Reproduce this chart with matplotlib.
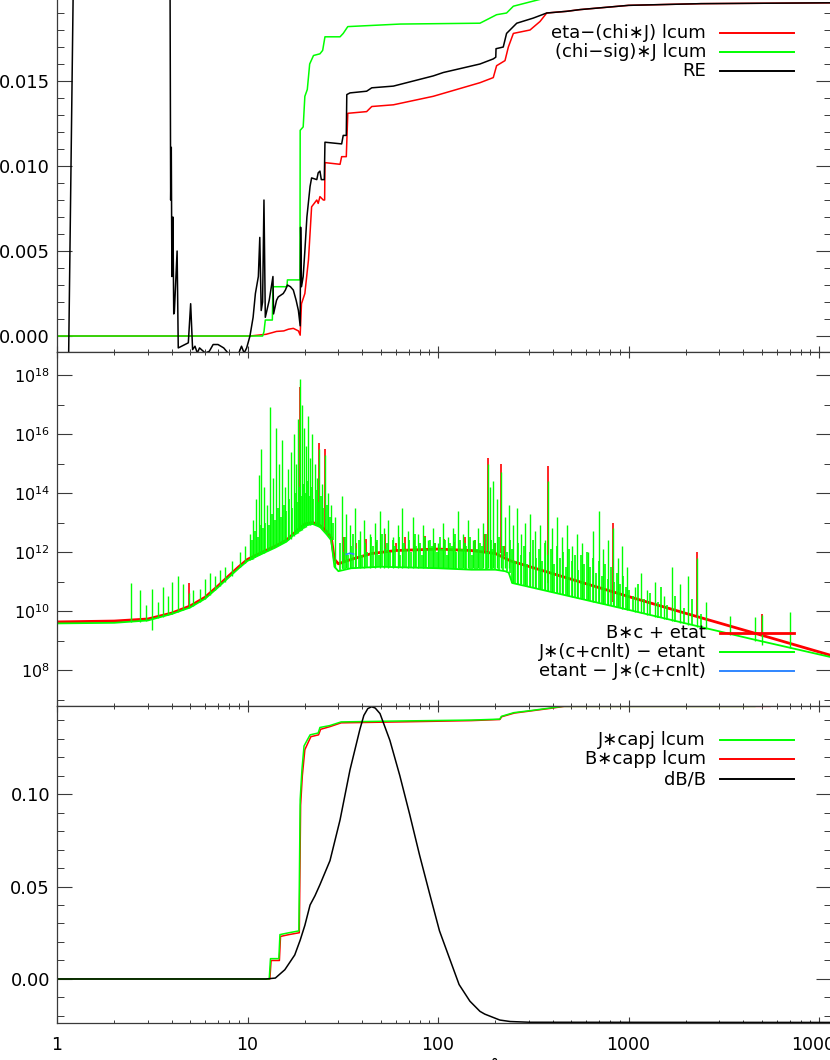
import numpy as np
import matplotlib
matplotlib.use("Agg")
import matplotlib.pyplot as plt
from matplotlib.ticker import MultipleLocator, FixedLocator, NullFormatter, FuncFormatter, LogLocator
from matplotlib.lines import Line2D

plt.rcParams['font.family'] = ['DejaVu Sans']
plt.rcParams['mathtext.default'] = 'regular'

# ---------------- top panel data ----------------
re_x = [1.15, 1.22, 1.30, 3.90, 3.95, 3.98, 4.01, 4.03, 4.06, 4.10, 4.13, 4.27, 4.33, 4.89, 5.03, 5.15,
        5.30, 5.45, 5.60, 6.0, 6.3, 6.6, 7.0, 7.5, 7.9, 9.0, 9.3, 9.6, 9.9, 10.3, 10.7, 11.0, 11.4, 11.6,
        11.8, 12.0, 12.2, 12.4, 13.0, 13.6, 13.7, 14.2, 14.5, 15.4, 15.8, 16.2, 16.8, 17.4, 18.0, 18.5,
        18.9, 19.0, 19.2, 19.6, 20.0, 20.5, 21.3, 21.7, 23.1, 23.5, 24.0, 24.4, 25.3, 25.5, 31.2, 31.8,
        33.0, 33.2, 34.5, 42.2, 44.9, 58.3, 94.4, 106.6, 166, 195, 201, 201.6, 220, 229, 259, 316, 372,
        474, 556, 1000, 2400, 11500]
re_y = [-0.0015, 0.0215, 0.03, 0.03, 0.0080, 0.0111, 0.0035, 0.0039, 0.0070, 0.0013, 0.0014, 0.0050,
        -0.0007, -0.0004, 0.0019, -0.0008, -0.0006, -0.0010, -0.0007, -0.0010, -0.0009, -0.0005, -0.0005,
        -0.0007, -0.0010, -0.0010, -0.0006, -0.0010, -0.0007, 0.0000, 0.0011, 0.0025, 0.0035, 0.0058,
        0.0015, 0.0020, 0.0080, 0.0011, 0.0021, 0.0035, 0.0013, 0.0021, 0.0023, 0.0025, 0.0027, 0.0030,
        0.0029, 0.0027, 0.0021, 0.0015, 0.0006, 0.0064, 0.0029, 0.0035, 0.0050, 0.0070, 0.0088, 0.0093,
        0.0092, 0.0096, 0.0097, 0.0092, 0.0092, 0.0114, 0.0113, 0.0118, 0.0118, 0.0142, 0.0143, 0.0144,
        0.0146, 0.0147, 0.0153, 0.0155, 0.0160, 0.0163, 0.0164, 0.0169, 0.0170, 0.0178, 0.0184, 0.0187,
        0.0190, 0.0191, 0.0192, 0.01945, 0.01955, 0.0196]

eta_x = [1, 10.3, 12.5, 13.5, 14.2, 15.5, 16.4, 17.4, 18.5, 18.9, 19.2, 20.0, 20.9, 21.7, 23.1, 23.5,
         24.0, 25.0, 25.4, 25.5, 30.6, 31.2, 33.0, 33.6, 42.2, 44.9, 58.3, 94.4, 166, 195, 203, 224.7,
         234, 248.6, 304, 343, 372, 474, 556, 1000, 2400, 11500]
eta_y = [0, 0, 0.0001, 0.0002, 0.00027, 0.0003, 0.0004, 0.00045, 0.0003, 0.00005, 0.0019, 0.0025,
         0.0045, 0.0076, 0.0080, 0.0078, 0.0082, 0.0080, 0.0080, 0.0102, 0.0101, 0.01055, 0.01055,
         0.0131, 0.0132, 0.0135, 0.0136, 0.0141, 0.0149, 0.0152, 0.0159, 0.0162, 0.0170, 0.0178, 0.0180,
         0.0185, 0.0190, 0.0191, 0.0192, 0.01945, 0.01955, 0.0196]

chisig_x = [1, 12.0, 12.2, 12.4, 13.5, 13.6, 16.1, 16.2, 18.85, 18.9, 19.6, 20.0, 20.6, 21.2, 22.2, 24.0,
            24.8, 25.5, 30.6, 31.8, 33.6, 63.2, 166, 180, 203, 229, 248.6, 316, 372, 500, 1000, 11500]
chisig_y = [0, 0, 0.00025, 0.00094, 0.00094, 0.0029, 0.0029, 0.0033, 0.0033, 0.0121, 0.0123, 0.0141,
            0.0145, 0.0160, 0.0165, 0.0166, 0.0168, 0.0176, 0.0176, 0.0178, 0.0182, 0.01835, 0.0184,
            0.0186, 0.0189, 0.0190, 0.0194, 0.0197, 0.0199, 0.0201, 0.0205, 0.0210]

# ---------------- middle panel data (log10 of the values) ----------------
red_cont_x = [1, 2, 3, 4, 5, 6, 7, 8, 9, 10, 12, 14, 16, 18, 20, 22, 24, 26, 27.5, 28.6, 30, 35, 45, 60,
              100, 150, 200, 240, 1000, 2000, 5000, 11500]
red_cont_log = [9.63, 9.66, 9.73, 9.93, 10.17, 10.47, 10.85, 11.2, 11.5, 11.75, 12.0, 12.2, 12.4, 12.7,
                12.95, 13.0, 12.9, 12.7, 12.5, 11.75, 11.6, 11.75, 11.95, 12.05, 12.1, 12.05, 11.95, 11.7,
                10.49, 9.92, 9.18, 8.5]

grn_cont_x = [1, 2, 3, 4, 5, 6, 7, 8, 9, 10, 12, 14, 16, 18, 20, 22, 24, 26, 27.5, 28.6, 30, 35, 50, 100,
              150, 200, 225, 235, 245, 300, 1000, 4300, 11500]
grn_cont_log = [9.58, 9.60, 9.68, 9.9, 10.12, 10.42, 10.8, 11.15, 11.45, 11.7, 11.95, 12.15, 12.35, 12.65,
                12.9, 12.95, 12.85, 12.6, 12.4, 11.5, 11.35, 11.45, 11.5, 11.45, 11.4, 11.4, 11.35, 11.3,
                10.95, 10.82, 10.04, 9.07, 8.44]

# (wavelength, log10 low end, log10 high end) of the emission spikes
spikes = [
    (2.45, 9.62, 10.95), (2.73, 9.64, 10.7), (2.93, 9.67, 10.2), (3.15, 9.35, 10.75), (3.39, 9.76, 10.3),
    (3.60, 9.8, 10.8), (3.82, 9.86, 10.5), (4.02, 9.9, 11.0), (4.32, 9.97, 11.2), (4.59, 10.04, 10.9),
    (4.93, 10.1, 10.6), (5.18, 10.18, 10.7), (5.63, 10.3, 10.75), (5.98, 10.4, 11.1), (6.36, 10.55, 11.3),
    (6.75, 10.7, 11.2), (7.17, 10.85, 11.4), (7.62, 11.0, 11.5), (8.29, 11.2, 11.7), (9.13, 11.5, 12.0),
    (9.70, 11.62, 12.2),
    (10.3, 11.72, 12.6), (10.69, 11.78, 13.1), (11.08, 11.85, 13.8), (11.49, 11.9, 14.6), (11.77, 11.94, 15.5),
    (12.21, 11.97, 14.2), (12.66, 12.05, 13.6), (13.13, 12.1, 16.9), (13.61, 12.15, 14.5), (14.11, 12.2, 16.2),
    (14.64, 12.25, 15.0), (15.18, 12.3, 15.8), (15.74, 12.35, 14.2), (16.32, 12.4, 14.8), (16.92, 12.45, 15.4),
    (17.54, 12.55, 16.0), (17.97, 12.6, 15.0), (18.41, 12.65, 16.5), (18.86, 12.7, 17.88), (19.32, 12.75, 17.0),
    (19.80, 12.8, 16.2), (20.28, 12.85, 15.6), (20.78, 12.9, 16.6), (21.29, 12.9, 15.2), (21.81, 12.95, 16.0),
    (22.61, 12.95, 15.0), (23.17, 12.9, 14.5), (23.73, 12.85, 15.5), (24.61, 12.8, 14.3), (25.52, 12.7, 15.3),
    (26.46, 12.6, 14.0), (27.44, 12.45, 13.6), (28.80, 11.45, 13.2),
    (31.34, 11.45, 13.9), (32.89, 11.45, 13.3), (34.52, 11.45, 12.9), (36.67, 11.45, 13.5), (38.96, 11.45, 12.7),
    (40.88, 11.45, 13.1), (43.95, 11.45, 12.6), (46.69, 11.45, 13.0), (49.61, 11.45, 13.4), (52.07, 11.45, 12.8),
    (54.65, 11.45, 13.1), (58.04, 11.45, 12.5), (61.66, 11.45, 12.9), (64.71, 11.45, 13.5), (69.57, 11.45, 12.7),
    (73.9, 11.45, 13.2), (78.5, 11.45, 12.6), (83.4, 11.45, 12.9), (88.6, 11.45, 12.4), (94.1, 11.45, 12.8),
    (100.0, 11.45, 12.3), (106.2, 11.45, 13.0), (112.8, 11.45, 12.5), (119.9, 11.45, 12.8), (127.4, 11.45, 13.4),
    (135.3, 11.45, 12.6), (143.7, 11.45, 13.1), (152.7, 11.45, 12.4), (162.2, 11.45, 12.8), (172.3, 11.45, 13.0),
    (183.0, 11.45, 15.0), (187.5, 11.45, 14.2), (194.4, 11.45, 14.4), (204.1, 11.45, 13.8), (214.1, 11.45, 14.7),
    (224.7, 11.45, 13.2), (235.9, 11.45, 13.6), (247.6, 10.95, 12.9), (259.9, 10.93, 13.5), (272.8, 10.9, 12.6),
    (286.3, 10.87, 13.0), (304.1, 10.82, 13.3), (323.0, 10.78, 12.7), (343.1, 10.74, 12.9), (364.5, 10.7, 12.4),
    (378.0, 10.68, 14.4), (396.7, 10.65, 12.8), (421.4, 10.61, 13.2), (447.6, 10.57, 12.5), (475.6, 10.53, 12.9),
    (505.1, 10.49, 12.2), (536.7, 10.45, 12.6), (570.1, 10.41, 12.3), (612.9, 10.36, 12.0), (651.0, 10.32, 12.7),
    (699.9, 10.27, 13.4), (734.6, 10.24, 12.1), (780.5, 10.2, 12.4), (829.1, 10.16, 12.8), (880.9, 10.12, 11.8),
    (924.5, 10.08, 12.2), (982.0, 10.04, 11.5),
    (1082, 9.97, 10.8), (1163, 9.92, 11.3), (1251, 9.87, 10.7), (1377, 9.81, 11.0), (1536, 9.73, 10.5),
    (1692, 9.67, 11.5), (1864, 9.6, 10.9), (2053, 9.54, 11.2), (2289, 9.47, 11.8), (2552, 9.39, 10.3),
    (3411, 9.2, 9.83), (4613, 9.0, 9.8), (5022, 8.85, 9.86), (7044, 8.75, 9.97),
]

# dense short lines ("grass") between the strong spikes
grass = [
    (10.5, 11.74, 12.4), (10.9, 11.8, 12.7), (11.3, 11.87, 12.5), (11.6, 11.92, 12.9), (12.0, 11.95, 12.8),
    (12.4, 12.0, 13.0), (12.9, 12.07, 12.9), (13.4, 12.12, 13.3), (13.9, 12.17, 13.1), (14.4, 12.22, 13.5),
    (14.9, 12.27, 13.2), (15.5, 12.32, 13.6), (16.0, 12.37, 13.4), (16.6, 12.42, 13.8), (17.2, 12.5, 13.5),
    (17.8, 12.58, 14.0), (18.2, 12.62, 13.7), (18.6, 12.67, 14.2), (19.1, 12.72, 13.9), (19.6, 12.78, 14.3),
    (20.0, 12.82, 14.0), (20.5, 12.87, 14.4), (21.0, 12.9, 13.9), (21.5, 12.92, 14.2), (22.2, 12.95, 13.8),
    (22.9, 12.92, 14.1), (23.5, 12.88, 13.7), (24.2, 12.82, 13.9), (25.0, 12.75, 13.5), (26.0, 12.62, 13.6),
    (27.0, 12.5, 13.2), (28.0, 12.4, 13.0),
    (30.5, 11.4, 12.3), (31.6, 11.42, 12.0), (32.4, 11.43, 12.5), (33.7, 11.44, 11.9), (35.0, 11.45, 12.2),
    (35.9, 11.46, 12.6), (37.3, 11.47, 12.1), (38.5, 11.47, 12.4), (40.0, 11.48, 11.9), (41.3, 11.48, 12.3),
    (42.6, 11.49, 12.0), (44.6, 11.49, 12.5), (45.8, 11.5, 12.2), (47.9, 11.5, 12.4), (49.0, 11.5, 11.9),
    (50.8, 11.5, 12.6), (53.0, 11.5, 12.1), (54.0, 11.5, 12.3), (56.2, 11.49, 12.0), (57.9, 11.49, 12.4),
    (59.8, 11.49, 12.2), (62.5, 11.48, 12.5), (63.5, 11.48, 11.9), (66.0, 11.48, 12.3), (68.0, 11.47, 12.1),
    (70.8, 11.47, 12.4), (72.5, 11.47, 12.0), (75.5, 11.47, 12.6), (77.0, 11.46, 12.2), (80.0, 11.46, 12.3),
    (82.0, 11.46, 11.9), (85.5, 11.46, 12.5), (87.0, 11.46, 12.1), (91.0, 11.45, 12.4), (92.5, 11.45, 12.2),
    (96.5, 11.45, 12.3), (98.5, 11.45, 12.0), (102.5, 11.45, 12.5), (104.5, 11.45, 12.1), (109.0, 11.44, 12.4),
    (111.0, 11.44, 11.9), (116.0, 11.44, 12.3), (118.0, 11.43, 12.2), (123.0, 11.43, 12.6), (125.0, 11.43, 12.0),
    (131.0, 11.42, 12.4), (133.0, 11.42, 12.1), (139.0, 11.42, 12.3), (141.0, 11.41, 12.2), (148.0, 11.41, 12.5),
    (150.0, 11.4, 11.9), (157.0, 11.4, 12.4), (160.0, 11.4, 12.1), (167.0, 11.4, 12.3), (170.0, 11.4, 12.2),
    (178.0, 11.4, 12.6), (181.0, 11.4, 12.0), (189.0, 11.4, 12.4), (192.0, 11.4, 12.1), (200.0, 11.4, 12.3),
    (209.0, 11.38, 12.5), (219.0, 11.36, 12.2), (229.0, 11.34, 12.0), (238.0, 11.3, 12.4),
    (245, 10.95, 12.1), (254, 10.93, 11.7), (263, 10.92, 12.3), (273, 10.9, 11.9), (283, 10.88, 12.2),
    (293, 10.85, 11.6), (304, 10.82, 12.0), (315, 10.8, 12.4), (327, 10.77, 11.8), (339, 10.75, 12.1),
    (351, 10.73, 11.7), (364, 10.7, 12.3), (378, 10.68, 11.9), (392, 10.66, 12.1), (406, 10.63, 11.6),
    (421, 10.61, 12.2), (437, 10.58, 11.8), (453, 10.56, 12.0), (470, 10.54, 11.5), (487, 10.51, 12.1),
    (505, 10.49, 11.7), (524, 10.46, 11.9), (543, 10.44, 11.4), (563, 10.42, 11.9), (584, 10.39, 11.6),
    (606, 10.37, 12.0), (628, 10.34, 11.5), (651, 10.32, 11.8), (675, 10.29, 11.3), (700, 10.27, 11.7),
    (726, 10.24, 11.2), (753, 10.22, 11.6), (781, 10.19, 11.1), (810, 10.17, 11.5), (840, 10.14, 11.0),
    (871, 10.12, 11.3), (903, 10.09, 10.9), (937, 10.07, 11.2), (971, 10.05, 10.8),
    (1010, 10.02, 10.7), (1050, 9.99, 10.5), (1120, 9.95, 10.9), (1200, 9.9, 10.4), (1300, 9.85, 10.6),
    (1420, 9.78, 10.3), (1480, 9.76, 10.8), (1600, 9.7, 10.2), (1750, 9.64, 10.5), (1950, 9.57, 10.1),
    (2150, 9.51, 10.4), (2400, 9.44, 9.9),
]

red_spikes = [
    (4.93, 10.17, 10.95), (18.86, 12.7, 17.6), (23.73, 12.9, 15.7), (25.52, 12.7, 15.5), (183.0, 11.95, 15.2),
    (214.1, 11.95, 15.0), (378.0, 10.95, 14.9), (829.1, 10.3, 13.0), (2289, 9.8, 12.0), (5022, 9.17, 9.9),
    (32.0, 11.65, 12.5), (37.0, 11.72, 12.3), (42.0, 11.85, 12.45), (47.5, 11.96, 12.35), (53.0, 12.0, 12.6),
    (60.0, 12.05, 12.3), (67.0, 12.06, 12.5), (75.0, 12.07, 12.4), (85.0, 12.08, 12.55), (96.0, 12.1, 12.3),
    (108.0, 12.09, 12.45), (122.0, 12.07, 12.35), (138.0, 12.06, 12.5), (156.0, 12.04, 12.4), (176.0, 12.0, 12.6),
    (198.0, 11.94, 12.3), (222.0, 11.85, 12.2),
]

blue_x = [33.0, 34.5, 36.0]
blue_log = [11.92, 11.96, 11.93]

# ---------------- bottom panel data ----------------
capj_x = [1, 13.0, 13.2, 14.6, 14.8, 16.5, 18.6, 18.9, 19.3, 19.8, 21.3, 23.5, 24.0, 27.0, 31.0, 63, 150,
          211, 215, 250, 300, 387, 450, 4600]
capj_y = [0, 0, 0.011, 0.011, 0.024, 0.025, 0.026, 0.097, 0.113, 0.126, 0.132, 0.133, 0.136, 0.137,
          0.139, 0.1395, 0.1400, 0.1405, 0.142, 0.144, 0.145, 0.1465, 0.1474, 0.1474]
capp_x = [1, 13.1, 13.3, 14.7, 14.9, 16.5, 18.7, 19.0, 19.4, 20.0, 21.5, 23.6, 24.2, 27.2, 31.0, 63, 150,
          211, 216, 252, 300, 387, 460, 5540]
capp_y = [0, 0, 0.010, 0.010, 0.023, 0.024, 0.025, 0.094, 0.110, 0.124, 0.131, 0.132, 0.135, 0.1365,
          0.1385, 0.139, 0.1397, 0.1403, 0.1418, 0.1438, 0.1448, 0.1463, 0.1474, 0.1474]
dbb_x = [1, 12.5, 14.0, 15.7, 17.7, 18.9, 20.0, 21.3, 22.6, 24.0, 27.1, 30.6, 34.5, 38.9, 40.8, 42.8,
         44.8, 46.8, 49.6, 55.9, 63, 71, 80, 90.4, 101.8, 116, 129, 147, 166, 176, 211, 239, 303, 11500]
dbb_y = [0, 0, 0.0005, 0.005, 0.013, 0.021, 0.029, 0.040, 0.045, 0.051, 0.064, 0.086, 0.113, 0.135,
         0.1425, 0.1462, 0.1472, 0.1465, 0.1435, 0.129, 0.110, 0.089, 0.067, 0.046, 0.026, 0.010, -0.003,
         -0.012, -0.0175, -0.019, -0.0222, -0.023, -0.0234, -0.0235]

top_labels = ['eta\u2212(chi\u2217J) lcum', '(chi\u2212sig)\u2217J lcum', 'RE']
mid_labels = ['B\u2217c + etat', 'J\u2217(c+cnlt) \u2212 etant', 'etant \u2212 J\u2217(c+cnlt)']
bot_labels = ['J\u2217capj lcum', 'B\u2217capp lcum', 'dB/B']
x_title = 'Wavelength (\u00c5)'

RED = '#ff0000'
GREEN = '#00ff00'
BLUE = '#2f86ff'
AXC = '#3a3a3a'

W_PX, H_PX = 830, 1060
fig = plt.figure(figsize=(W_PX / 100, H_PX / 100), dpi=100)

def fy(py):
    return 1 - py / H_PX

L = 57 / W_PX
AW = (830.6 - 57) / W_PX
ax1 = fig.add_axes([L, fy(352), AW, 441 / H_PX])
ax2 = fig.add_axes([L, fy(706), AW, 354 / H_PX])
ax3 = fig.add_axes([L, fy(1023), AW, 317 / H_PX])

for ax in (ax1, ax2, ax3):
    ax.set_xscale('log')
    ax.set_xlim(1, 11500)
    ax.xaxis.set_major_locator(LogLocator(base=10, numticks=10))
    ax.xaxis.set_minor_locator(LogLocator(base=10, subs=np.arange(2, 10), numticks=20))
    ax.xaxis.set_minor_formatter(NullFormatter())
    ax.tick_params(axis='x', which='major', direction='in', length=4.3, width=0.8, color=AXC,
                   top=True, bottom=True, labelsize=12.5, pad=9)
    ax.tick_params(axis='x', which='minor', direction='in', length=2.2, width=0.7, color=AXC,
                   top=True, bottom=True)
    ax.tick_params(axis='y', which='major', direction='in', length=10.8, width=0.8, color=AXC,
                   left=True, right=True, labelsize=13, pad=5)
    ax.tick_params(axis='y', which='minor', direction='in', length=5.0, width=0.7, color=AXC,
                   left=True, right=True)
    for s in ax.spines.values():
        s.set_color(AXC)
        s.set_linewidth(0.9)

# ---- top panel ----
ax1.plot(eta_x, eta_y, color=RED, lw=1.1)
ax1.plot(chisig_x, chisig_y, color=GREEN, lw=1.1)
ax1.plot(re_x, re_y, color='black', lw=1.1)
ax1.set_ylim(-0.00094, 0.025)
ax1.yaxis.set_major_locator(MultipleLocator(0.005))
ax1.yaxis.set_minor_locator(MultipleLocator(0.001))
ax1.yaxis.set_major_formatter(FuncFormatter(
    lambda v, p: '' if v > 0.0175 else '%.3f' % (0.0 if abs(v) < 1e-9 else v)))
ax1.tick_params(axis='x', labelbottom=False)

# ---- middle panel ----
def vl(ax, rows, color, lw):
    xs = [r[0] for r in rows]
    lo = 10.0 ** np.array([r[1] for r in rows])
    hi = 10.0 ** np.array([r[2] for r in rows])
    ax.vlines(xs, lo, hi, colors=color, lw=lw)

ax2.set_yscale('log')
ax2.plot(red_cont_x, 10.0 ** np.array(red_cont_log), color=RED, lw=2.0)
vl(ax2, red_spikes, RED, 1.2)
ax2.plot(grn_cont_x, 10.0 ** np.array(grn_cont_log), color=GREEN, lw=1.3)
vl(ax2, grass, GREEN, 1.2)
vl(ax2, spikes, GREEN, 1.0)
ax2.plot(blue_x, 10.0 ** np.array(blue_log), color=BLUE, lw=1.2)
ax2.set_ylim(10 ** 6.78, 10 ** 18.78)
ax2.yaxis.set_major_locator(FixedLocator([10.0 ** k for k in range(8, 19, 2)]))
ax2.yaxis.set_minor_locator(FixedLocator([10.0 ** k for k in range(7, 19, 2)]))
ax2.yaxis.set_minor_formatter(NullFormatter())
ax2.yaxis.set_major_formatter(FuncFormatter(lambda v, p: r'$\mathregular{10^{%d}}$' % round(np.log10(v))))
ax2.tick_params(axis='y', which='major', labelsize=11.5)
ax2.tick_params(axis='x', labelbottom=False)

# ---- bottom panel ----
ax3.plot(capp_x, capp_y, color=RED, lw=1.1)
ax3.plot(capj_x, capj_y, color=GREEN, lw=1.1)
ax3.plot(dbb_x, dbb_y, color='black', lw=1.1)
ax3.set_ylim(-0.0238, 0.1476)
ax3.yaxis.set_major_locator(MultipleLocator(0.05))
ax3.yaxis.set_minor_locator(MultipleLocator(0.01))
ax3.yaxis.set_major_formatter(FuncFormatter(lambda v, p: '%.2f' % (0.0 if abs(v) < 1e-9 else v)))
ax3.xaxis.set_major_formatter(FuncFormatter(lambda v, p: '%g' % v))

fig.text(438 / W_PX, fy(1075), x_title, ha='center', va='baseline', fontsize=13)

# ---- legends (drawn in figure coordinates) ----
def legend(rows_py, labels, colors, lws):
    for py, lab, c, lw in zip(rows_py, labels, colors, lws):
        fig.text(706 / W_PX, fy(py), lab, ha='right', va='center', fontsize=13)
        fig.add_artist(Line2D([720 / W_PX, 794 / W_PX], [fy(py), fy(py)], color=c, lw=lw,
                              transform=fig.transFigure))

legend([32.7, 52.0, 71.3], top_labels, [RED, GREEN, 'black'], [1.4, 1.4, 1.4])
legend([632.7, 652.0, 671.3], mid_labels, [RED, GREEN, BLUE], [2.0, 1.4, 1.4])
legend([740.0, 759.3, 779.0], bot_labels, [GREEN, RED, 'black'], [1.4, 1.4, 1.4])

fig.savefig('out.png', dpi=100)
